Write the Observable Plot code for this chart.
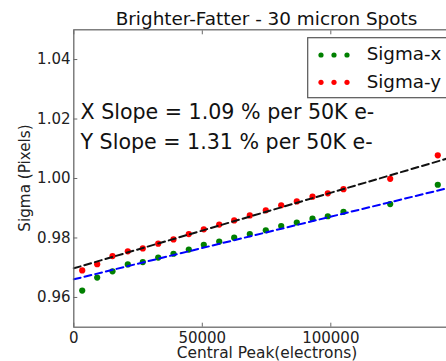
<!DOCTYPE html>
<html><head><meta charset="utf-8">
<script src="https://cdn.jsdelivr.net/npm/d3@7"></script>
<script src="https://cdn.jsdelivr.net/npm/@observablehq/plot@0.6"></script>
<style>
html,body{margin:0;padding:0;background:#fff;overflow:hidden}
#wrap{position:relative;width:446px;height:361px;overflow:hidden}
</style></head><body><div id="wrap"></div>
<script>
// ---- data ----
const peak = [3270, 9100, 15060, 21010, 26850, 32840, 38790, 44750, 50580, 56580, 62410, 68480, 74710, 80700, 86770, 92880, 98830, 104940, 123110, 141630];
const sigmaX = [0.9623, 0.9667, 0.9688, 0.9711, 0.9719, 0.9734, 0.9747, 0.9761, 0.9777, 0.9788, 0.9801, 0.9813, 0.9826, 0.9840, 0.9852, 0.9865, 0.9873, 0.9888, 0.9914, 0.9979];
const sigmaY = [0.9691, 0.9712, 0.9739, 0.9755, 0.9765, 0.9781, 0.9795, 0.9813, 0.9829, 0.9845, 0.9859, 0.9876, 0.9893, 0.9910, 0.9923, 0.9939, 0.9950, 0.9964, 0.9999, 1.0078];
const fitPeak = [0, 150000];
const fitSigmaX = [0.9661, 0.9977];
const fitSigmaY = [0.9698, 1.0079];
const xTicks = [0, 50000, 100000];
const xTickLabels = ["0", "50000", "100000"];
const yTicks = [0.96, 0.98, 1.00, 1.02, 1.04];
const yTickLabels = ["0.96", "0.98", "1.00", "1.02", "1.04"];
const titleText = "Brighter-Fatter - 30 micron Spots";
const xLabelText = "Central Peak(electrons)";
const yLabelText = "Sigma (Pixels)";
const annotations = ["X Slope = 1.09 % per 50K e-", "Y Slope = 1.31 % per 50K e-"];
const annotPeak = [2600, 2600];
const annotSigma = [1.0222, 1.0120];
const legendLabels = ["Sigma-x", "Sigma-y"];
const seriesColors = ["#008000", "#ff0000"];
const fitColors = ["#0000ff", "#111111"];

// ---- tables ----
const pts = peak.map((p, i) => ({peak: p, sx: sigmaX[i], sy: sigmaY[i]}));
const fit = fitPeak.map((p, i) => ({peak: p, fx: fitSigmaX[i], fy: fitSigmaY[i]}));
const notes = annotations.map((t, i) => ({t, peak: annotPeak[i], sigma: annotSigma[i]}));

const FONT = "DejaVu Sans";
const W = 446, H = 361;
const mL = 73.3, mT = 29.3, mB = 34.3, mR = 446 - 458.8;
const spine = "#6a6a6a";

const chart = Plot.plot({
  width: W, height: H,
  marginLeft: mL, marginRight: mR, marginTop: mT, marginBottom: mB,
  style: {fontFamily: FONT, fontSize: "15px", color: "#222", overflow: "hidden", background: "white"},
  x: {domain: [0, 150000]},
  y: {domain: [0.95, 1.05]},
  marks: [
    Plot.dot(pts, {x: "peak", y: "sx", r: 3.1, fill: seriesColors[0], stroke: null}),
    Plot.dot(pts, {x: "peak", y: "sy", r: 3.1, fill: seriesColors[1], stroke: null}),
    Plot.line(fit, {x: "peak", y: "fx", stroke: fitColors[0], strokeWidth: 2, strokeDasharray: "7,4"}),
    Plot.line(fit, {x: "peak", y: "fy", stroke: fitColors[1], strokeWidth: 2, strokeDasharray: "7,4"}),
    Plot.text(notes, {x: "peak", y: "sigma", text: "t", textAnchor: "start", fontSize: 20.6, fill: "#111"}),
    Plot.frame({stroke: spine, strokeWidth: 1.3}),
    // inward ticks
    Plot.axisX(xTicks, {anchor: "bottom", tickSize: -4, tickFormat: () => "", label: null, stroke: spine}),
    Plot.axisX(xTicks, {anchor: "top", tickSize: -4, tickFormat: () => "", label: null, stroke: spine}),
    Plot.axisY(yTicks, {anchor: "left", tickSize: -4, tickFormat: () => "", label: null, stroke: spine}),
    // tick labels
    Plot.axisX(xTicks, {anchor: "bottom", tickSize: 0, tickPadding: 5.5, tickFormat: d => xTickLabels[xTicks.indexOf(d)], label: null, fill: "#222"}),
    Plot.axisY(yTicks, {anchor: "left", tickSize: 0, tickPadding: 3.3, tickFormat: d => yTickLabels[yTicks.indexOf(d)], label: null, fill: "#222"})
  ]
});
document.getElementById("wrap").appendChild(chart);

const svg = d3.select(chart);
// title
svg.append("text").attr("x", 266.5).attr("y", 25).attr("text-anchor", "middle")
  .attr("font-family", FONT).attr("font-size", 18.4).attr("fill", "#111").text(titleText);
// axis labels
svg.append("text").attr("x", 267).attr("y", 358).attr("text-anchor", "middle")
  .attr("font-family", FONT).attr("font-size", 15.4).attr("fill", "#222").text(xLabelText);
svg.append("text").attr("transform", "translate(30,178) rotate(-90)").attr("text-anchor", "middle")
  .attr("font-family", FONT).attr("font-size", 15.2).attr("fill", "#222").text(yLabelText);
// legend
const lg = svg.append("g").attr("text-anchor", "start");
lg.append("rect").attr("x", 307.7).attr("y", 37.7).attr("width", 170).attr("height", 60)
  .attr("fill", "white").attr("stroke", "#555").attr("stroke-width", 1.2);
legendLabels.forEach((lab, i) => {
  const cy = 55 + i * 27.3;
  [321, 334, 347].forEach(cx => lg.append("circle").attr("cx", cx).attr("cy", cy).attr("r", 2.6).attr("fill", seriesColors[i]));
  lg.append("text").attr("x", 366.7).attr("y", cy).attr("dy", "0.30em").attr("text-anchor", "start")
    .attr("font-family", FONT).attr("font-size", 18.3).attr("fill", "#111").text(lab);
});
</script></body></html>
